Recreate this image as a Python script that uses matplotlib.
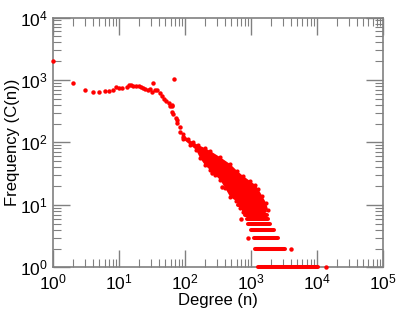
import matplotlib
matplotlib.use('Agg')
import matplotlib.pyplot as plt
import numpy as np
from matplotlib.ticker import LogLocator, NullFormatter

plt.rcParams['font.family'] = ['Liberation Sans', 'DejaVu Sans']
plt.rcParams['mathtext.fontset'] = 'custom'
plt.rcParams['mathtext.rm'] = 'Liberation Sans'

# low degree part: individual points (degree, count)
chain_deg = [1, 2, 3, 4, 5, 6, 7, 8, 9, 10, 11, 13, 14, 15, 16, 18, 20, 21, 23, 25, 27, 29,
             31, 33, 35, 38, 41, 44, 48, 51, 56, 59, 62, 63, 64, 66, 68, 73, 75, 76, 82, 83, 94]
chain_cnt = [1990, 890, 690, 641, 649, 658, 665, 698, 771, 751, 735, 780, 821, 839, 800, 809,
             800, 780, 751, 708, 682, 708, 649, 884, 682, 690, 625, 553, 501, 466, 423, 383,
             310, 397, 383, 285, 1035, 243, 228, 207, 175, 148, 123]

# dense band envelope (upper and lower edge)
upper_deg = [93, 111, 132, 157, 200, 239, 339, 480, 613, 757, 966, 1150, 1277, 1468, 1689, 1811]
upper_cnt = [136, 113, 101, 91, 81, 73, 58, 45, 35, 29, 24, 21, 18, 14, 10.7, 8.3]
lower_deg = [93, 119, 146, 168, 200, 239, 284, 339, 403, 480, 592, 680, 757]
lower_cnt = [113, 91, 76, 56, 43, 36, 30, 25, 18.6, 13.4, 11.5, 8.9, 7.7]

# horizontal streaks at small counts
streak_cnt = [1, 2, 3, 4, 5, 6, 7, 8, 9, 10]
streak_lo = [1262, 1163, 1090, 980, 890, 865, 820, 770, 705, 635]
streak_hi = [10400, 3220, 2570, 2200, 1910, 1800, 1720, 1620, 1520, 1390]

# isolated points around the band
extra_deg = [13740, 4000, 900, 698, 253, 359, 1084, 1370]
extra_cnt = [1, 2, 3, 6, 32, 19, 17, 12]

red = '#ff0000'
grey = '#808080'

fig = plt.figure(figsize=(3.99, 3.13), dpi=100)
ax = fig.add_axes([0.1336, 0.146, 0.8264, 0.798])
ax.set_xscale('log')
ax.set_yscale('log')

poly_x = upper_deg + lower_deg[::-1]
poly_y = upper_cnt + lower_cnt[::-1]
ax.fill(poly_x, poly_y, color=red, lw=0, zorder=2)
ax.hlines(streak_cnt, streak_lo, streak_hi, colors=red, lw=2.9, capstyle='round',
          zorder=3, clip_on=False)
ax.plot(upper_deg + lower_deg, upper_cnt + lower_cnt, 'o', color=red, ms=3, mew=0, zorder=3)
ax.plot(chain_deg, chain_cnt, 'o', color=red, ms=3.2, mew=0, zorder=3, clip_on=False)
ax.plot(extra_deg, extra_cnt, 'o', color=red, ms=3.2, mew=0, zorder=3, clip_on=False)

ax.set_xlim(1, 1e5)
ax.set_ylim(1, 1e4)

for a in (ax.xaxis, ax.yaxis):
    a.set_major_locator(LogLocator(base=10, numticks=10))
    a.set_minor_locator(LogLocator(base=10, subs=np.arange(2, 10), numticks=10))
    a.set_minor_formatter(NullFormatter())

ax.tick_params(which='both', direction='in', top=True, right=True, color=grey,
               labelsize=12.5, pad=4)
ax.tick_params(which='major', length=12, width=1.0)
ax.tick_params(which='minor', length=6, width=0.8)
for s in ax.spines.values():
    s.set_color(grey)
    s.set_linewidth(1.2)

ax.set_xlabel('Degree (n)', fontsize=12, labelpad=0)
ax.set_ylabel('Frequency (C(n))', fontsize=12, labelpad=0)

fig.savefig('out.png', dpi=100)
